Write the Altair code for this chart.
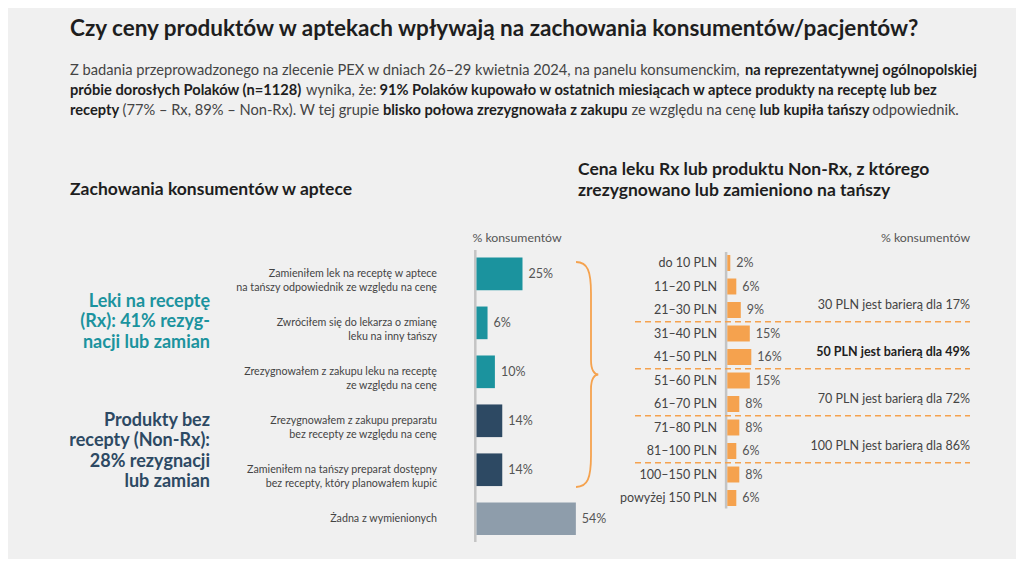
import glob
import os
import struct

import altair as alt
import pandas as pd

# ---------------- data ----------------
left_categories = [
    "Zamieniłem lek na receptę w aptece\nna tańszy odpowiednik ze względu na cenę",
    "Zwróciłem się do lekarza o zmianę\nleku na inny tańszy",
    "Zrezygnowałem z zakupu leku na receptę\nze względu na cenę",
    "Zrezygnowałem z zakupu preparatu\nbez recepty ze względu na cenę",
    "Zamieniłem na tańszy preparat dostępny\nbez recepty, który planowałem kupić",
    "Żadna z wymienionych",
]
left_values = [25, 6, 10, 14, 14, 54]
left_groups = ["Rx", "Rx", "Rx", "Non-Rx", "Non-Rx", "Brak"]

right_categories = [
    "do 10 PLN", "11–20 PLN", "21–30 PLN", "31–40 PLN", "41–50 PLN",
    "51–60 PLN", "61–70 PLN", "71–80 PLN", "81–100 PLN", "100–150 PLN",
    "powyżej 150 PLN",
]
right_values = [2, 6, 9, 15, 16, 15, 8, 8, 6, 8, 6]

barrier_labels = [
    "30 PLN jest barierą dla 17%",
    "50 PLN jest barierą dla 49%",
    "70 PLN jest barierą dla 72%",
    "100 PLN jest barierą dla 86%",
]
barrier_after = ["21–30 PLN", "41–50 PLN", "61–70 PLN", "81–100 PLN"]
barrier_bold = [False, True, False, False]

title_text = "Czy ceny produktów w aptekach wpływają na zachowania konsumentów/pacjentów?"
rx_label = ["Leki na receptę", "(Rx): 41% rezyg-", "nacji lub zamian"]
nonrx_label = ["Produkty bez", "recepty (Non-Rx):", "28% rezygnacji", "lub zamian"]

# paragraph segments: (text, bold)
para_lines = [
    [("Z badania przeprowadzonego na zlecenie PEX w dniach 26–29 kwietnia 2024, na panelu konsumenckim,", False),
     ("na reprezentatywnej ogólnopolskiej", True)],
    [("próbie dorosłych Polaków (n=1128)", True),
     ("wynika, że:", False),
     ("91% Polaków kupowało w ostatnich miesiącach w aptece produkty na receptę lub bez", True)],
    [("recepty", True),
     ("(77% – Rx, 89% – Non-Rx). W tej grupie", False),
     ("blisko połowa zrezygnowała z zakupu", True),
     ("ze względu na cenę", False),
     ("lub kupiła tańszy", True),
     ("odpowiednik.", False)],
]

# ---------------- layout / style ----------------
FONT = "Lato"
BG = "#f0f0f0"
TEAL = "#1b939e"
NAVY = "#2d4963"
GREY = "#8e9dab"
ORANGE = "#f5a24e"
TXT = "#444444"
DARK = "#1e1e1e"


# --- text measurement from the installed font files (for laying out mixed bold/regular runs) ---
class FontMetrics:
    def __init__(self, path):
        d = open(path, "rb").read()
        u16 = lambda o: struct.unpack(">H", d[o:o + 2])[0]
        s16 = lambda o: struct.unpack(">h", d[o:o + 2])[0]
        u32 = lambda o: struct.unpack(">I", d[o:o + 4])[0]
        n = u16(4)
        tabs = {}
        for i in range(n):
            tag, _, off, ln = struct.unpack(">4sIII", d[12 + 16 * i:28 + 16 * i])
            tabs[tag.decode("latin1")] = off
        self.upem = u16(tabs["head"] + 18)
        nhm = u16(tabs["hhea"] + 34)
        hm = tabs["hmtx"]
        self.adv = [u16(hm + 4 * i) for i in range(nhm)]
        self.cmap = {}
        cm = tabs["cmap"]
        for i in range(u16(cm + 2)):
            pid, eid, off = struct.unpack(">HHI", d[cm + 4 + 8 * i:cm + 12 + 8 * i])
            sub = cm + off
            fmt = u16(sub)
            if fmt == 4:
                seg2 = u16(sub + 6)
                ends = sub + 14
                starts = ends + seg2 + 2
                deltas = starts + seg2
                ros = deltas + seg2
                for s in range(seg2 // 2):
                    e, st = u16(ends + 2 * s), u16(starts + 2 * s)
                    de, ro = s16(deltas + 2 * s), u16(ros + 2 * s)
                    for c in range(st, e + 1):
                        if c == 0xFFFF:
                            continue
                        if ro == 0:
                            g = (c + de) & 0xFFFF
                        else:
                            g = u16(ros + 2 * s + ro + 2 * (c - st))
                            if g:
                                g = (g + de) & 0xFFFF
                        self.cmap.setdefault(c, g)
            elif fmt == 12:
                for gi in range(u32(sub + 12)):
                    a, b, g0 = struct.unpack(">III", d[sub + 16 + 12 * gi:sub + 28 + 12 * gi])
                    for c in range(a, b + 1):
                        self.cmap.setdefault(c, g0 + c - a)

    def width(self, text, size):
        tot = 0
        for ch in text:
            g = self.cmap.get(ord(ch), 0)
            tot += self.adv[min(g, len(self.adv) - 1)]
        return tot * size / self.upem


def load_metrics(patterns):
    for pat in patterns:
        for root in ["/usr/share/fonts", "/usr/local/share/fonts", os.path.expanduser("~/.fonts"),
                     os.path.expanduser("~/.local/share/fonts")]:
            hits = sorted(glob.glob(os.path.join(root, "**", pat), recursive=True))
            for h in hits:
                try:
                    return FontMetrics(h)
                except Exception:
                    pass
    return None


M_REG = load_metrics(["Lato-Regular.ttf", "Lato-Reg*.ttf"])
M_BOLD = load_metrics(["Lato-Bold.ttf", "Lato-Bol*.ttf"])


def text_width(s, size, bold):
    m = M_BOLD if bold else M_REG
    if m is not None:
        return m.width(s, size)
    return len(s) * size * (0.53 if bold else 0.49)


PARA_X0 = 62          # left edge of the paragraph (chart px)
PARA_LINE1_W = 908    # width of the first paragraph line in the reference
GAP_FACTOR = 0.75     # gap between runs, as a fraction of a space
para_y = [63, 83, 103]


def line_width(line, size):
    w = sum(text_width(s, size, b) for s, b in line)
    w += GAP_FACTOR * text_width(" ", size, False) * (len(line) - 1)
    return w


PARA_SIZE = max(13.0, min(16.0, 14.5 * PARA_LINE1_W / line_width(para_lines[0], 14.5)))

LX = alt.Scale(domain=[0, 100], range=[468.5, 652.5])
LY = alt.Scale(domain=left_categories, range=[241.4, 535.2], paddingInner=0.333, paddingOuter=0.1667)
RX = alt.Scale(domain=[0, 100], range=[719.3, 869.3])
RY = alt.Scale(domain=right_categories, range=[243.25, 501.75], paddingInner=0.32, paddingOuter=0.16)

dummy = pd.DataFrame({"a": [0]})


def txt(text, x, y, size, color=TXT, bold=False, align="left", line_height=None,
        baseline="middle", font=FONT):
    kw = dict(text=text, font=font, fontSize=size, color=color,
              fontWeight="bold" if bold else "normal", align=align, baseline=baseline)
    if line_height:
        kw["lineHeight"] = line_height
    return alt.Chart(dummy).mark_text(**kw).encode(x=alt.value(x), y=alt.value(y))


layers = []

# title + paragraph
layers.append(txt(title_text, 62, 21, 22.5, color=DARK, bold=True))
gap_w = GAP_FACTOR * text_width(" ", PARA_SIZE, False)
for li, line in enumerate(para_lines):
    x = PARA_X0
    for s, b in line:
        layers.append(txt(s, round(x, 1), para_y[li], PARA_SIZE, color=DARK if b else TXT, bold=b))
        x += text_width(s, PARA_SIZE, b) + gap_w

# section subtitles
layers.append(txt("Zachowania konsumentów w aptece", 62, 182, 17.5, color=DARK, bold=True))
layers.append(txt(["Cena leku Rx lub produktu Non-Rx, z którego",
                   "zrezygnowano lub zamieniono na tańszy"], 570, 162, 17.5,
                  color=DARK, bold=True, line_height=21))

layers.append(txt("% konsumentów", 509, 230, 12.3, color="#555555", align="center"))
layers.append(txt("% konsumentów", 917.5, 230, 12.3, color="#555555", align="center"))

# group labels (first line position, lines flow downward)
layers.append(txt(rx_label, 202, 293.5, 18, color=TEAL, bold=True, align="right", line_height=20.5))
layers.append(txt(nonrx_label, 202, 412.5, 18, color=NAVY, bold=True, align="right", line_height=20.5))

# ---------------- left chart ----------------
left_df = pd.DataFrame({"cat": left_categories, "val": left_values, "grp": left_groups})

left_axis = alt.Chart(dummy).mark_rule(color="#c4c4c4", strokeWidth=2.5, xOffset=-1.2).encode(
    x=alt.datum(0, scale=LX, axis=None), y=alt.value(242), y2=alt.value(534))

left_bars = alt.Chart(left_df).mark_bar().encode(
    x=alt.X("val:Q", scale=LX, axis=None),
    y=alt.Y("cat:N", scale=LY, axis=None),
    color=alt.Color("grp:N", scale=alt.Scale(domain=["Rx", "Non-Rx", "Brak"], range=[TEAL, NAVY, GREY]),
                    legend=None),
)
left_vals = alt.Chart(left_df).transform_calculate(lbl="datum.val + '%'").mark_text(
    font=FONT, fontSize=12.5, color="#555555", align="left", baseline="middle", dx=6).encode(
    x=alt.X("val:Q", scale=LX, axis=None),
    y=alt.Y("cat:N", scale=LY, axis=None),
    text="lbl:N",
)
left_cats = alt.Chart(left_df).mark_text(font=FONT, fontSize=10.7, color=TXT, align="right",
                                         baseline="middle", lineBreak="\n", lineHeight=14.5).encode(
    x=alt.value(429),
    y=alt.Y("cat:N", scale=LY, axis=None),
    text="cat:N",
)
layers += [left_axis, left_bars, left_vals, left_cats]

# brace
brace_path = ("M-0.133,-1 C-0.03,-1 0,-0.92 0,-0.72 L0,-0.13 C0,-0.04 0.03,0 0.065,0 "
              "C0.03,0 0,0.04 0,0.13 L0,0.72 C0,0.92 -0.03,1 -0.133,1")
layers.append(alt.Chart(dummy).mark_point(shape=brace_path, filled=False, color=ORANGE,
                                          strokeWidth=1.8, opacity=1, size=50625).encode(
    x=alt.value(583), y=alt.value(366.5)))

# ---------------- right chart ----------------
right_df = pd.DataFrame({"cat": right_categories, "val": right_values})
bar_df = pd.DataFrame({"cat": barrier_after, "lbl": barrier_labels, "bold": barrier_bold})

right_axis = alt.Chart(dummy).mark_rule(color="#c4c4c4", strokeWidth=2.5, xOffset=-1.2).encode(
    x=alt.datum(0, scale=RX, axis=None), y=alt.value(244), y2=alt.value(500.5))

dash_rules = alt.Chart(bar_df).mark_rule(color=ORANGE, strokeWidth=1.5, strokeDash=[6, 4],
                                         yOffset=23.5 * 0.32 / 2).encode(
    y=alt.Y("cat:N", scale=RY, axis=None, bandPosition=1),
    x=alt.value(627), x2=alt.value(962),
)
right_bars = alt.Chart(right_df).mark_bar(color=ORANGE).encode(
    x=alt.X("val:Q", scale=RX, axis=None),
    y=alt.Y("cat:N", scale=RY, axis=None),
)
right_vals = alt.Chart(right_df).transform_calculate(lbl="datum.val + '%'").mark_text(
    font=FONT, fontSize=12.5, color="#555555", align="left", baseline="middle", dx=6).encode(
    x=alt.X("val:Q", scale=RX, axis=None),
    y=alt.Y("cat:N", scale=RY, axis=None),
    text="lbl:N",
)
right_cats = alt.Chart(right_df).mark_text(font=FONT, fontSize=12.5, color=TXT, align="right",
                                           baseline="middle").encode(
    x=alt.value(709),
    y=alt.Y("cat:N", scale=RY, axis=None),
    text="cat:N",
)
barrier_norm = alt.Chart(bar_df).transform_filter("!datum.bold").mark_text(
    font=FONT, fontSize=12.5, align="right", baseline="middle", yOffset=-5, color=TXT).encode(
    x=alt.value(962),
    y=alt.Y("cat:N", scale=RY, axis=None),
    text="lbl:N",
)
barrier_strong = alt.Chart(bar_df).transform_filter("datum.bold").mark_text(
    font=FONT, fontSize=12.5, align="right", baseline="middle", yOffset=-5, color=DARK,
    fontWeight="bold").encode(
    x=alt.value(962),
    y=alt.Y("cat:N", scale=RY, axis=None),
    text="lbl:N",
)
layers += [right_axis, dash_rules, right_bars, right_vals, right_cats, barrier_norm, barrier_strong]

chart = alt.layer(*layers).resolve_scale(
    x="independent", y="independent", color="independent"
).properties(
    width=1008, height=551, autosize="none", padding=0, background=BG
).configure_view(stroke=None)

chart.save("out.html", embed_options={"renderer": "svg", "actions": False})
